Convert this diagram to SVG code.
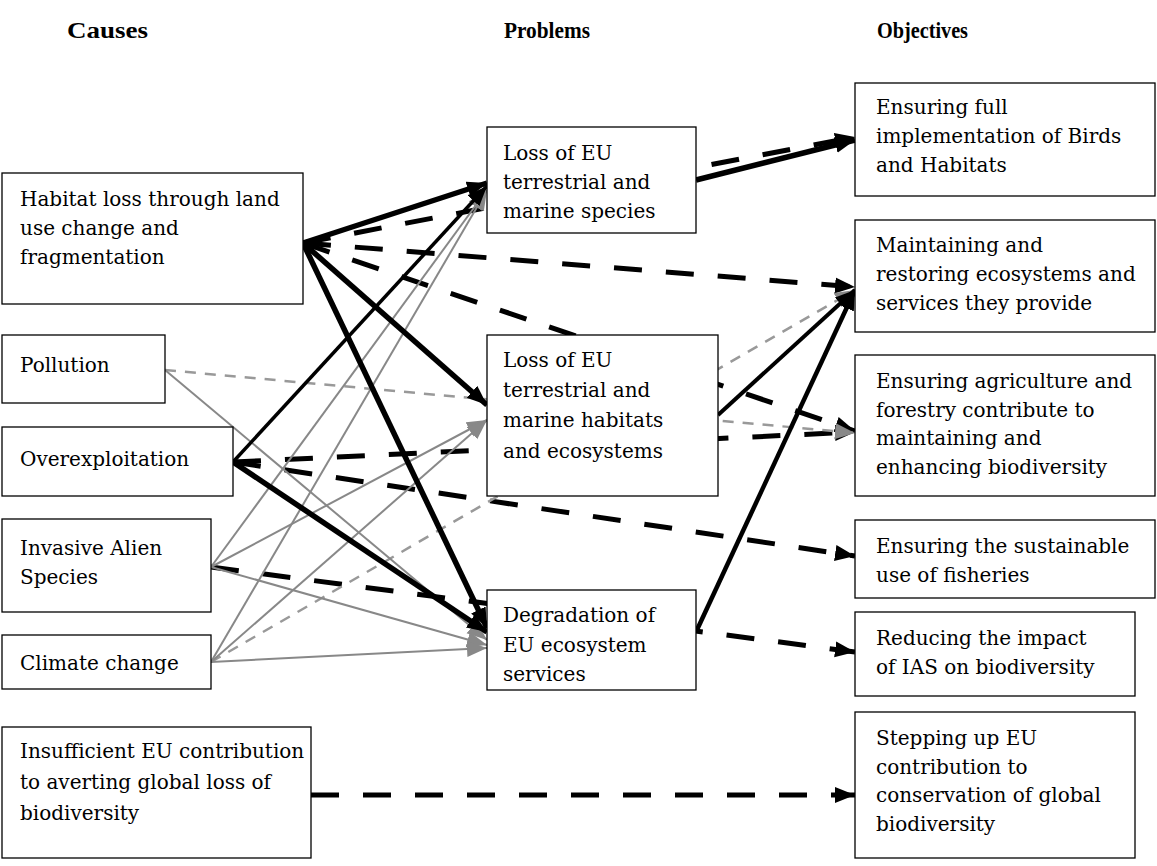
<svg xmlns="http://www.w3.org/2000/svg" width="1157" height="866" viewBox="0 0 1157 866">
<defs>
<marker id="ab" markerUnits="userSpaceOnUse" markerWidth="22" markerHeight="18" refX="20" refY="8" orient="auto"><path d="M0,0 L20,8 L0,16 z" fill="#000"/></marker>
<marker id="ag" markerUnits="userSpaceOnUse" markerWidth="22" markerHeight="18" refX="20" refY="8" orient="auto"><path d="M0,0 L20,8 L0,16 z" fill="#888"/></marker>
</defs>
<style>
.box{fill:#fff;stroke:#000;stroke-width:1.3}
.t{font-family:"DejaVu Serif","Liberation Serif",serif;font-size:20px;fill:#000}
.h{font-family:"Liberation Serif",serif;font-weight:bold;font-size:24px;fill:#000}
.s1{stroke:#000;stroke-width:5.5;fill:none;marker-end:url(#ab)}
.s2{stroke:#000;stroke-width:4;fill:none;marker-end:url(#ab)}
.d{stroke:#000;stroke-width:5;fill:none;stroke-dasharray:28 24;marker-end:url(#ab)}
.g{stroke:#888;stroke-width:2;fill:none;marker-end:url(#ag)}
.gd{stroke:#999;stroke-width:2.5;fill:none;stroke-dasharray:11 9;marker-end:url(#ag)}
</style>
<rect width="1157" height="866" fill="#fff"/>
<g id="headings">
<text class="h" x="67" y="38" textLength="81" lengthAdjust="spacingAndGlyphs">Causes</text>
<text class="h" x="504" y="38" textLength="86" lengthAdjust="spacingAndGlyphs">Problems</text>
<text class="h" x="877" y="38" textLength="91" lengthAdjust="spacingAndGlyphs">Objectives</text>
</g>
<g id="connectors">
<path class="d" d="M303,243 L855,137"/>
<path class="d" d="M303,243 L855,287"/>
<path class="d" d="M303,243 L855,431"/>
<path class="d" d="M233,462 L855,432"/>
<path class="d" d="M233,462 L855,556"/>
<path class="d" d="M211,567 L855,652"/>
<path class="d" d="M311,795 L855,795"/>
<path class="gd" d="M165,370 L855,433"/>
<path class="gd" d="M211,662 L855,290"/>
<path class="g" d="M165,370 L487,640"/>
<path class="g" d="M211,567 L487,190"/>
<path class="g" d="M211,567 L487,420"/>
<path class="g" d="M211,567 L487,645"/>
<path class="g" d="M211,662 L487,190"/>
<path class="g" d="M211,662 L487,420"/>
<path class="g" d="M211,662 L487,648"/>
<path class="s1" d="M303,243 L487,183"/>
<path class="s1" d="M303,243 L487,405"/>
<path class="s1" d="M303,243 L487,628"/>
<path class="s2" style="stroke-width:3.5" d="M233,462 L487,186"/>
<path class="s1" d="M233,462 L487,632"/>
<path class="s1" d="M696,180 L855,140"/>
<path class="s2" d="M718,415 L855,290"/>
<path class="s2" style="stroke-width:4.5" d="M696,632 L855,290"/>
</g>
<g id="cause-habitat"><rect class="box" x="2" y="173" width="301" height="131"/>
<text class="t" x="20" y="206">Habitat loss through land</text><text class="t" x="20" y="235">use change and</text><text class="t" x="20" y="264">fragmentation</text></g>
<g id="cause-pollution"><rect class="box" x="2" y="335" width="163" height="68"/>
<text class="t" x="20" y="372">Pollution</text></g>
<g id="cause-overexploitation"><rect class="box" x="2" y="427" width="231" height="69"/>
<text class="t" x="20" y="466">Overexploitation</text></g>
<g id="cause-ias"><rect class="box" x="2" y="519" width="209" height="93"/>
<text class="t" x="20" y="555">Invasive Alien</text><text class="t" x="20" y="584">Species</text></g>
<g id="cause-climate"><rect class="box" x="2" y="635" width="209" height="54"/>
<text class="t" x="20" y="670">Climate change</text></g>
<g id="cause-global"><rect class="box" x="2" y="727" width="309" height="131"/>
<text class="t" x="20" y="758">Insufficient EU contribution</text><text class="t" x="20" y="789">to averting global loss of</text><text class="t" x="20" y="820">biodiversity</text></g>
<g id="problem-species"><rect class="box" x="487" y="127" width="209" height="106"/>
<text class="t" x="503" y="160">Loss of EU</text><text class="t" x="503" y="189">terrestrial and</text><text class="t" x="503" y="218">marine species</text></g>
<g id="problem-habitats"><rect class="box" x="487" y="335" width="231" height="161"/>
<text class="t" x="503" y="367">Loss of EU</text><text class="t" x="503" y="397">terrestrial and</text><text class="t" x="503" y="427">marine habitats</text><text class="t" x="503" y="458">and ecosystems</text></g>
<g id="problem-services"><rect class="box" x="487" y="590" width="209" height="100"/>
<text class="t" x="503" y="622">Degradation of</text><text class="t" x="503" y="652">EU ecosystem</text><text class="t" x="503" y="681">services</text></g>
<g id="obj-directives"><rect class="box" x="855" y="83" width="300" height="113"/>
<text class="t" x="876" y="114">Ensuring full</text><text class="t" x="876" y="143">implementation of Birds</text><text class="t" x="876" y="172">and Habitats</text></g>
<g id="obj-ecosystems"><rect class="box" x="855" y="220" width="300" height="112"/>
<text class="t" x="876" y="252">Maintaining and</text><text class="t" x="876" y="281">restoring ecosystems and</text><text class="t" x="876" y="310">services they provide</text></g>
<g id="obj-agriculture"><rect class="box" x="855" y="355" width="300" height="141"/>
<text class="t" x="876" y="388">Ensuring agriculture and</text><text class="t" x="876" y="417">forestry contribute to</text><text class="t" x="876" y="445">maintaining and</text><text class="t" x="876" y="474">enhancing biodiversity</text></g>
<g id="obj-fisheries"><rect class="box" x="855" y="520" width="300" height="78"/>
<text class="t" x="876" y="553">Ensuring the sustainable</text><text class="t" x="876" y="582">use of fisheries</text></g>
<g id="obj-ias"><rect class="box" x="855" y="612" width="280" height="84"/>
<text class="t" x="876" y="645">Reducing the impact</text><text class="t" x="876" y="674">of IAS on biodiversity</text></g>
<g id="obj-global"><rect class="box" x="855" y="712" width="280" height="146"/>
<text class="t" x="876" y="745">Stepping up EU</text><text class="t" x="876" y="774">contribution to</text><text class="t" x="876" y="802">conservation of global</text><text class="t" x="876" y="831">biodiversity</text></g>
</svg>
